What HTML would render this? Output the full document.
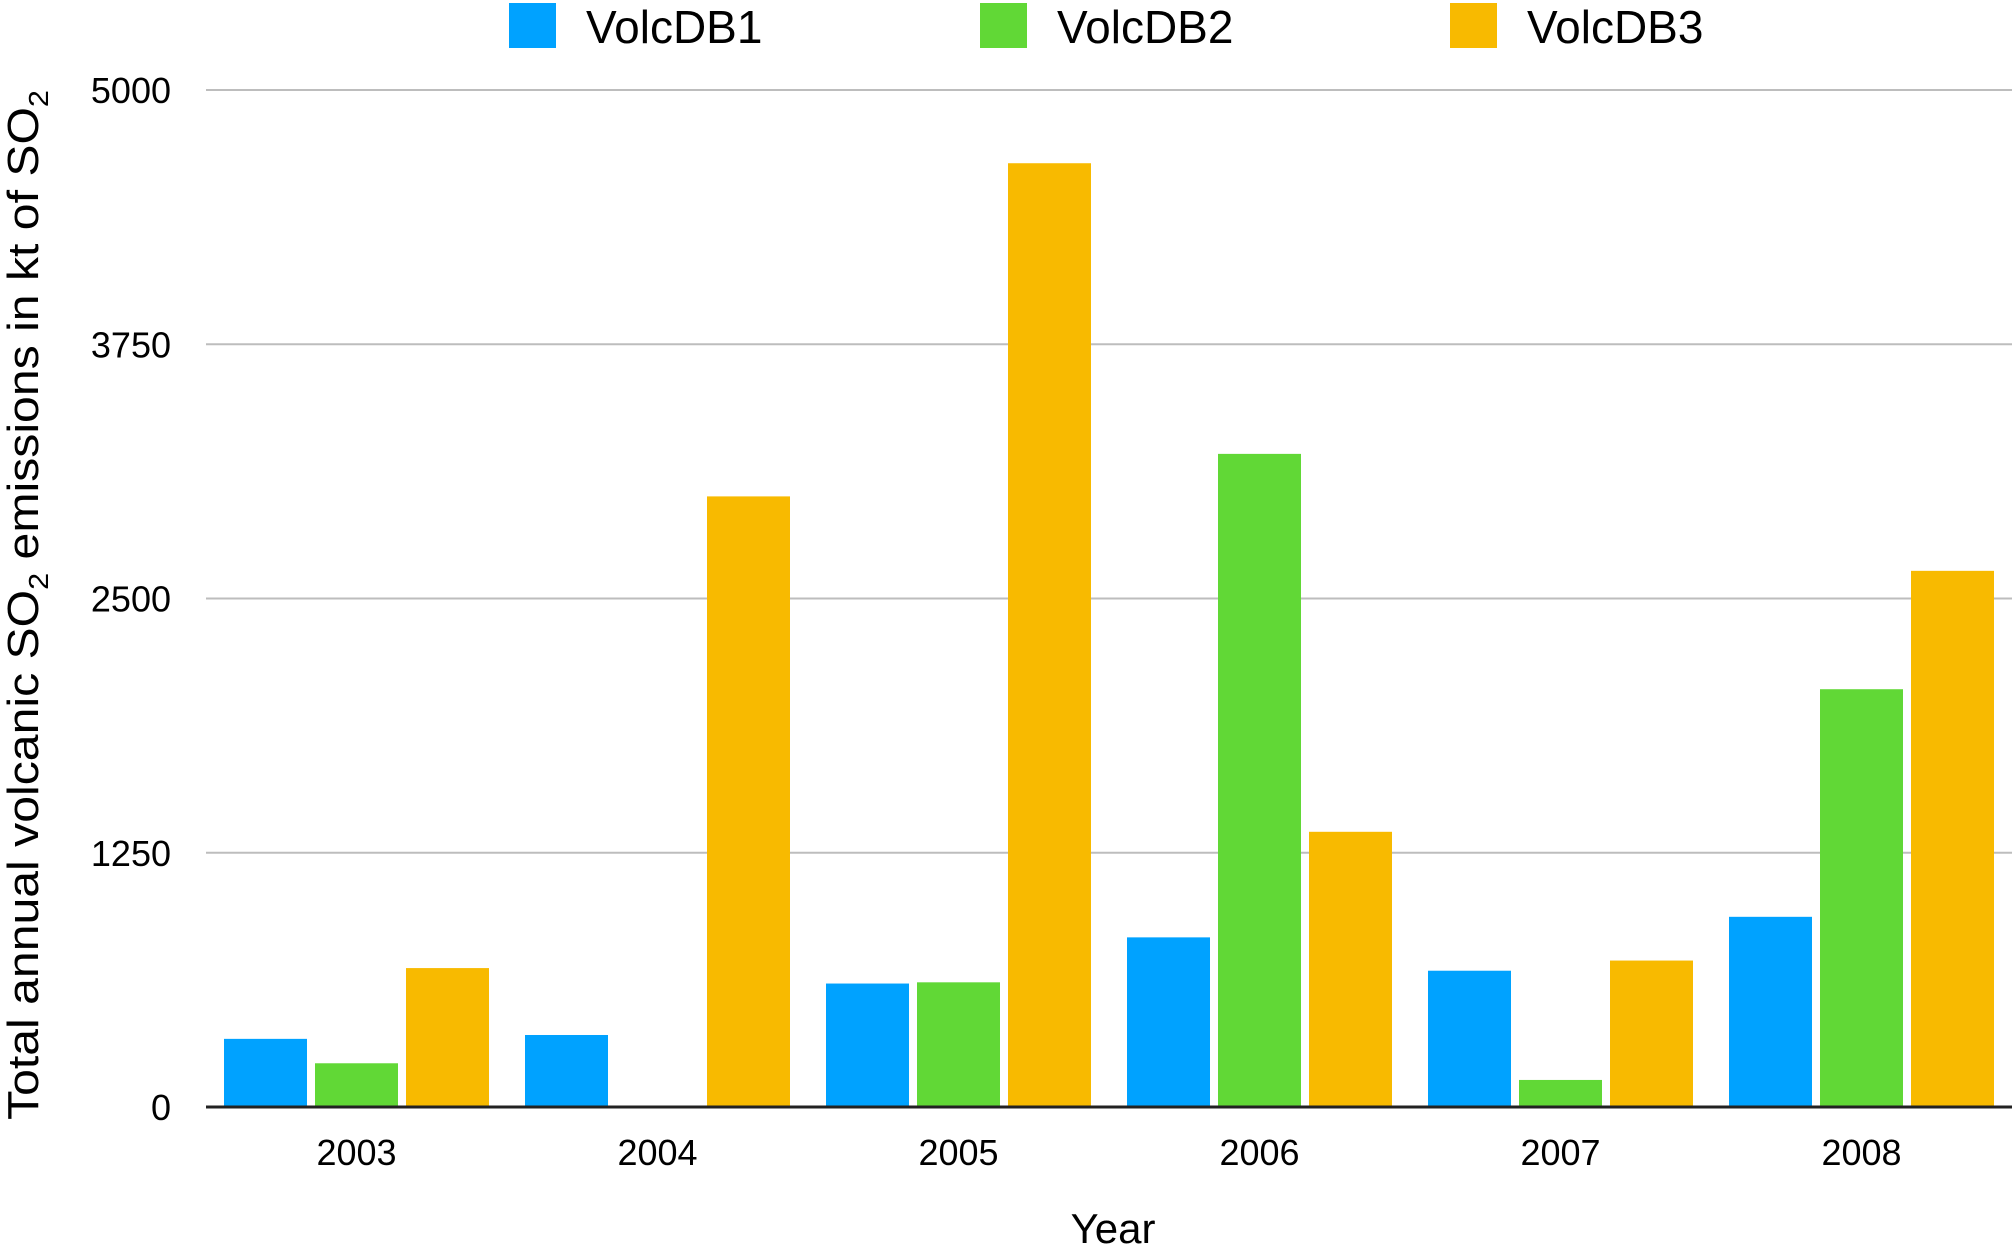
<!DOCTYPE html>
<html><head><meta charset="utf-8"><style>
html,body{margin:0;padding:0;background:#fff;}
svg{display:block;font-family:"Liberation Sans",sans-serif;}
</style></head><body>
<svg id="chart" width="2016" height="1245" viewBox="0 0 2016 1245" xmlns="http://www.w3.org/2000/svg">
<g id="grid"></g>
<g id="bars"></g>
<g id="axes"></g>
<g id="legend"></g>
<text x="1113" y="1243" font-size="42" text-anchor="middle">Year</text>
<text transform="translate(38,605) rotate(-90)" font-size="44" text-anchor="middle" textLength="1030" lengthAdjust="spacingAndGlyphs">Total annual volcanic  SO<tspan font-size="28" dy="10">2</tspan><tspan dy="-10"> emissions in kt of SO</tspan><tspan font-size="28" dy="10">2</tspan></text>
</svg>
<script>
const categories = ["2003","2004","2005","2006","2007","2008"];
const seriesNames = ["VolcDB1","VolcDB2","VolcDB3"];
const volcDB1 = [335, 354, 607, 834, 670, 935];
const volcDB2 = [215, 0, 613, 3211, 133, 2054];
const volcDB3 = [683, 3002, 4640, 1353, 720, 2636];
const yTicks = [0, 1250, 2500, 3750, 5000];
const colors = ["#00A2FF","#61D836","#F8BA00"];

const NS = "http://www.w3.org/2000/svg";
const plotLeft = 206, plotRight = 2012, plotBase = 1107, plotTop = 90, yMax = 5000;
const yScale = v => plotBase - (v / yMax) * (plotBase - plotTop);
const catW = (plotRight - plotLeft) / categories.length;
const xCat = i => plotLeft + i * catW;
const barW = 83, barGap = 8, pad = (catW - 3 * barW - 2 * barGap) / 2;

function mk(tag, attrs, parent) {
  const e = document.createElementNS(NS, tag);
  for (const k in attrs) e.setAttribute(k, attrs[k]);
  parent.appendChild(e);
  return e;
}
const grid = document.getElementById('grid');
const axes = document.getElementById('axes');
const bars = document.getElementById('bars');
const legend = document.getElementById('legend');

yTicks.forEach(t => {
  const y = yScale(t);
  if (t !== 0) {
    const l = mk('line', {x1: plotLeft, x2: plotRight, y1: y, y2: y, stroke: '#bdbdbd', 'stroke-width': 2}, grid);
    
    
  }
  const tx = mk('text', {x: 171, y: y + 13, 'font-size': 36, 'text-anchor': 'end'}, axes);
  tx.textContent = t;
  
  
});

const series = [volcDB1, volcDB2, volcDB3];
series.forEach((vals, s) => {
  vals.forEach((v, i) => {
    if (v <= 0) return;
    const x = xCat(i) + pad + s * (barW + barGap);
    const y = yScale(v);
    const r = mk('rect', {x: x, y: y, width: barW, height: plotBase - y, fill: colors[s]}, bars);
    
    
  });
});

const axisLine = mk('line', {x1: plotLeft, x2: plotRight, y1: plotBase, y2: plotBase, stroke: '#222', 'stroke-width': 3}, axes);



categories.forEach((c, i) => {
  const tx = mk('text', {x: xCat(i) + catW / 2, y: 1165, 'font-size': 36, 'text-anchor': 'middle'}, axes);
  tx.textContent = c;
  
  
});

const legX = [509, 980, 1450];
seriesNames.forEach((n, s) => {
  const g = mk('g', {}, legend);
  
  
  mk('rect', {x: legX[s], y: 3, width: 47, height: 45, fill: colors[s]}, g);
  const t = mk('text', {x: legX[s] + 77, y: 43, 'font-size': 46}, g);
  t.textContent = n;
});
</script>
</body></html>
